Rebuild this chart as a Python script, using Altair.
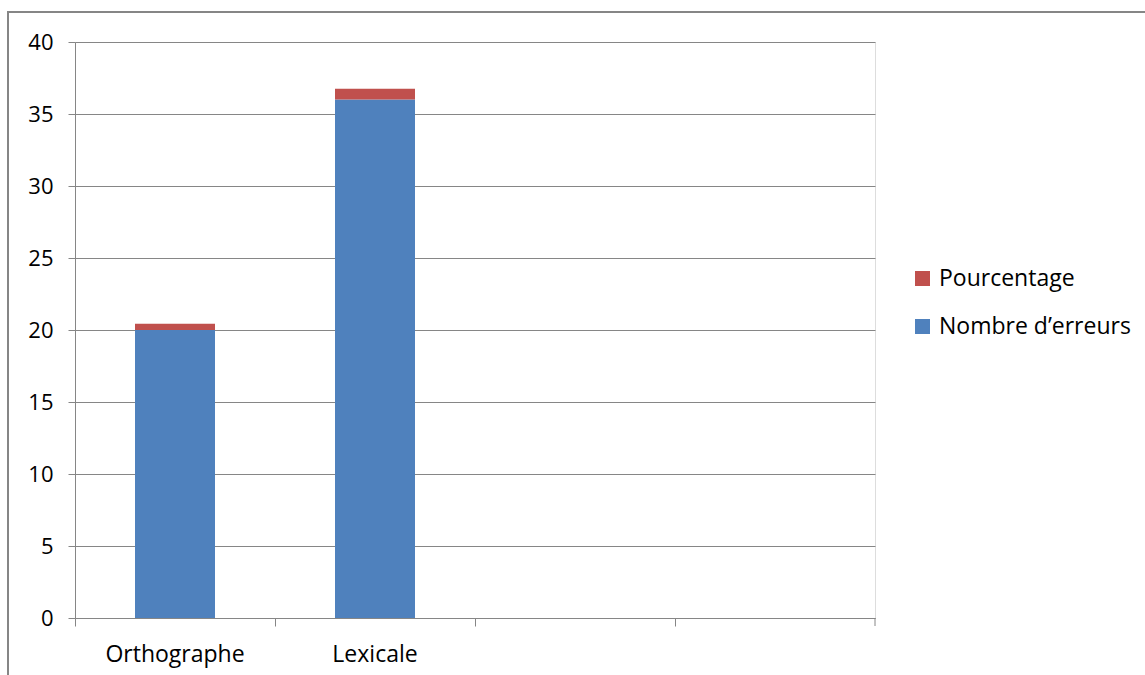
import altair as alt
import pandas as pd

categories = ["Orthographe", "Lexicale", "c3", "c4"]
bar_categories = ["Orthographe", "Lexicale"]
nombre = [20, 36]
pourcentage = [0.43, 0.75]
series = ["Pourcentage", "Nombre d\u2019erreurs"]
colors = ["#C0504D", "#4F81BD"]
y_ticks = [0, 5, 10, 15, 20, 25, 30, 35, 40]

rows = []
for c, n, p in zip(bar_categories, nombre, pourcentage):
    rows.append({"cat": c, "serie": series[1], "val": n, "o": 0})
    rows.append({"cat": c, "serie": series[0], "val": p, "o": 1})
df = pd.DataFrame(rows)

FONT = "Open Sans"
FS = 23
GRAY = "#868686"

bars = alt.Chart(df).mark_bar(size=80).encode(
    x=alt.X("cat:N", scale=alt.Scale(domain=categories, paddingInner=0, paddingOuter=0),
            axis=alt.Axis(title=None, labelAngle=0, bandPosition=0, grid=False,
                          labelExpr="(datum.value == 'c3' || datum.value == 'c4') ? '' : datum.value",
                          domainColor=GRAY, tickColor=GRAY, tickSize=8, labelPadding=17,
                          labelFontSize=FS, labelFont=FONT, labelColor="#000000")),
    y=alt.Y("val:Q", stack="zero", scale=alt.Scale(domain=[0, 40], nice=False),
            axis=alt.Axis(title=None, values=y_ticks, grid=True, gridColor=GRAY,
                          domainColor=GRAY, tickColor=GRAY, tickSize=7, labelPadding=15,
                          labelFontSize=22, labelFont=FONT, labelColor="#000000")),
    color=alt.Color("serie:N", scale=alt.Scale(domain=series, range=colors),
                    legend=alt.Legend(title=None, orient="none", legendX=836, legendY=225,
                                      symbolType="square", symbolSize=225, symbolStrokeWidth=0,
                                      labelFontSize=FS, labelFont=FONT, rowPadding=24,
                                      labelOffset=5, labelLimit=400, labelColor="#000000")),
    order=alt.Order("o:Q"),
)

last_tick = alt.Chart(pd.DataFrame({"a": [0]})).mark_rule(color=GRAY, strokeWidth=1).encode(
    x=alt.value(800), y=alt.value(576), y2=alt.value(584))

frame_left = alt.Chart(pd.DataFrame({"a": [0]})).mark_rule(color=GRAY, strokeWidth=2).encode(
    x=alt.value(-67), y=alt.value(-30), y2=alt.value(700))
frame_top = alt.Chart(pd.DataFrame({"a": [0]})).mark_rule(color=GRAY, strokeWidth=2).encode(
    x=alt.value(-68), x2=alt.value(1200), y=alt.value(-30))

chart = alt.layer(bars, last_tick, frame_left, frame_top).properties(
    width=800, height=576,
    autosize=alt.AutoSizeParams(type="none"),
    padding={"left": 75, "top": 42, "right": 270, "bottom": 57},
).configure_view(stroke=None).configure(background="white")

chart.save("out.html", embed_options={"renderer": "svg", "actions": False})
